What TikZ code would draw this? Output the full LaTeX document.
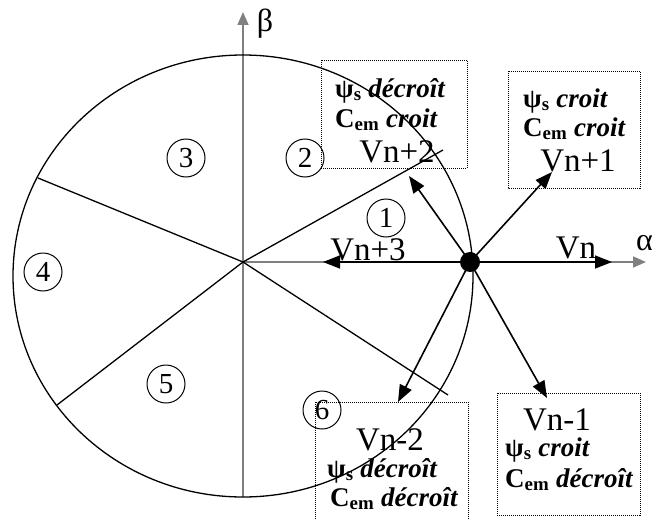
\documentclass[tikz,border=0pt]{standalone}
\usepackage{fontspec}
\setmainfont{Liberation Serif}
\usetikzlibrary{arrows.meta}

\begin{document}
\begin{tikzpicture}[x=1pt,y=-1pt,
    vec/.style={line width=1.6pt,-{Triangle[length=17pt,width=13pt]}},
    axe/.style={gray,line width=1.6pt,-{Triangle[length=13pt,width=11pt]}},
    zone/.style={line width=1.3pt},
    secteur/.style={circle,draw,line width=1pt,inner sep=0pt,minimum size=38pt,
        font=\fontsize{29}{29}\selectfont},
    lbl/.style={font=\fontsize{33}{33}\selectfont,inner sep=0pt,anchor=base},
    regle/.style={font=\fontsize{27}{27}\selectfont\bfseries,inner sep=0pt,anchor=base west},
    cadre/.style={densely dotted,line width=1pt}]
    \useasboundingbox (0,0) rectangle (655,519);
    \clip (0,0) rectangle (655,519);
    % axes
    \coordinate (O) at (243,262);
    \coordinate (b-0) at (243,497);
    \coordinate (b-1) at (243,12);
    \coordinate (a-1) at (646,262);
    \draw[axe] (b-0) -- (b-1);
    \draw[axe] (O) -- (a-1);
    \node[font=\fontsize{32}{32}\selectfont] (beta) at (265,24) {β};
    \node[font=\fontsize{32}{32}\selectfont,anchor=east,inner sep=0pt] (alpha) at (653,243) {α};
    % cercle et secteurs
    \draw[zone] (243,276) ellipse [x radius=230pt,y radius=221pt];
    \foreach \n/\p in {1/{443,150},2/{38,178},3/{57,405},4/{448,395}} {
        \coordinate (s-\n) at (\p);
        \draw[zone] (O) -- (s-\n);
    }
    \foreach \n/\p in {1/{386,218},2/{305,158},3/{186,158},4/{43,272},5/{166,384},6/{322,410}} {
        \node[secteur] (z-\n) at (\p) {\n};
    }
    % vecteurs tension
    \coordinate (P) at (470,262);
    \coordinate (v-0) at (612,262);
    \coordinate (v-1) at (552,172);
    \coordinate (v-2) at (409,176);
    \coordinate (v-3) at (323,262);
    \coordinate (v-4) at (398,402);
    \coordinate (v-5) at (547,398);
    \foreach \n in {0,...,5} {
        \draw[vec] (P) -- (v-\n);
    }
    \fill (P) circle (10pt);
    \node[lbl] (l-0) at (576,258) {Vn};
    \node[lbl] (l-3) at (368,260) {Vn+3};
    % cadres
    \draw[cadre] (321,60) rectangle (467,168);
    \draw[cadre] (508,71) rectangle (640,188);
    \draw[cadre] (315,402) rectangle (468,530);
    \draw[cadre] (497,393) rectangle (640,515);
    \node[lbl] (l-2) at (397,162) {Vn+2};
    \node[regle] (r-2a) at (335,97) {ψ\textsubscript{s} \textit{décroît}};
    \node[regle] (r-2b) at (335,127) {C\textsubscript{em} \textit{croit}};
    \node[lbl] (l-1) at (578,171) {Vn+1};
    \node[regle] (r-1a) at (523,107) {ψ\textsubscript{s} \textit{croit}};
    \node[regle] (r-1b) at (523,136) {C\textsubscript{em} \textit{croit}};
    \node[lbl] (l-4) at (390,450) {Vn-2};
    \node[regle] (r-4a) at (327,477) {ψ\textsubscript{s} \textit{décroît}};
    \node[regle] (r-4b) at (330,506) {C\textsubscript{em} \textit{décroît}};
    \node[lbl] (l-5) at (557,430) {Vn-1};
    \node[regle] (r-5a) at (505,456) {ψ\textsubscript{s} \textit{croit}};
    \node[regle] (r-5b) at (505,487) {C\textsubscript{em} \textit{décroît}};
\end{tikzpicture}
\end{document}
